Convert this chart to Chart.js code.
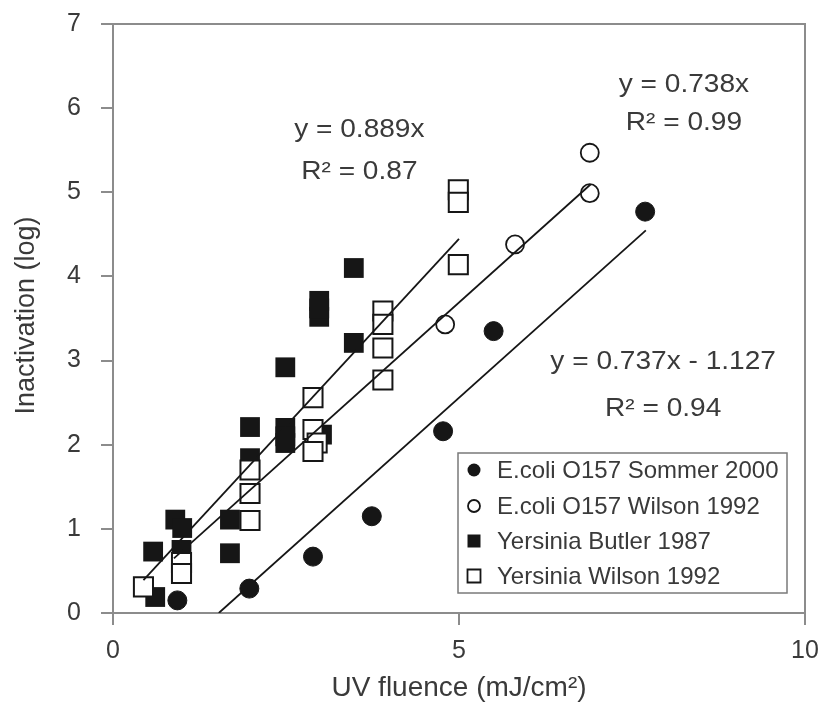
<!DOCTYPE html>
<html>
<head>
<meta charset="utf-8">
<script src="https://cdn.jsdelivr.net/npm/chart.js@4"></script>
<style>
  html, body { margin: 0; padding: 0; background: #ffffff; }
  canvas { display: block; }
</style>
</head>
<body>
<canvas id="chart" width="821" height="704"></canvas>
<script>
// UV inactivation of E. coli O157 and Yersinia, log reduction vs fluence
const sommerX = [0.93, 1.97, 2.89, 3.74, 4.77, 5.50, 7.69];
const sommerY = [0.15, 0.29, 0.67, 1.15, 2.16, 3.35, 4.77];

const ecoliWilsonX = [4.80, 5.81, 6.89, 6.89];
const ecoliWilsonY = [3.43, 4.38, 4.99, 5.47];

const butlerX = [0.58, 0.61, 0.90, 1.00, 0.99, 1.69, 1.69, 1.98, 1.98, 2.49, 2.49, 2.49, 2.49, 3.02, 2.98, 2.98, 2.98, 3.48, 3.48];
const butlerY = [0.73, 0.19, 1.11, 1.01, 0.75, 1.11, 0.71, 1.84, 2.21, 2.92, 2.20, 2.10, 2.02, 2.12, 3.52, 3.62, 3.71, 3.21, 4.10];

const yersWilsonX = [0.44, 0.99, 0.99, 1.98, 1.98, 1.98, 2.89, 2.89, 2.95, 2.89, 3.90, 3.90, 3.90, 3.90, 4.99, 4.99, 4.99];
const yersWilsonY = [0.31, 0.60, 0.47, 1.70, 1.42, 1.10, 2.56, 2.18, 2.02, 1.92, 3.59, 3.43, 3.15, 2.77, 5.03, 4.88, 4.14];

// Regression lines: y = slope * x + intercept over the fitted fluence range
const fitSlopes = [0.889, 0.738, 0.737];
const fitIntercepts = [0, 0, -1.127];
const fitXStart = [0.44, 0.88, 1.529];
const fitXEnd = [5.0, 6.9, 7.7];
const fitEquations = ['y = 0.889x', 'y = 0.738x', 'y = 0.737x - 1.127'];
const fitR2 = ['R\u00B2 = 0.87', 'R\u00B2 = 0.99', 'R\u00B2 = 0.94'];

const seriesNames = ['E.coli O157 Sommer 2000', 'E.coli O157 Wilson 1992', 'Yersinia Butler 1987', 'Yersinia Wilson 1992'];

const xTickValues = [0, 5, 10];
const yTickValues = [0, 1, 2, 3, 4, 5, 6, 7];

const FONT = '"Liberation Sans", Arial, Helvetica, sans-serif';
const TEXT = '#3a3a3a';
const AXIS = '#8c8c8c';
const INK = '#161616';

const pts = (xs, ys) => xs.map((x, i) => ({ x, y: ys[i] }));
const fitLine = i => [fitXStart[i], fitXEnd[i]].map(x => ({ x, y: fitSlopes[i] * x + fitIntercepts[i] }));

const markerStyles = [
  { pointStyle: 'circle', pointRadius: 9.5, backgroundColor: INK, borderColor: INK, borderWidth: 1 },
  { pointStyle: 'circle', pointRadius: 9, backgroundColor: '#ffffff', borderColor: INK, borderWidth: 1.8 },
  { pointStyle: 'rect', pointRadius: 14, backgroundColor: INK, borderColor: INK, borderWidth: 0 },
  { pointStyle: 'rect', pointRadius: 13.5, backgroundColor: '#ffffff', borderColor: INK, borderWidth: 2 }
];

const scatterSets = [
  pts(sommerX, sommerY),
  pts(ecoliWilsonX, ecoliWilsonY),
  pts(butlerX, butlerY),
  pts(yersWilsonX, yersWilsonY)
];
const scatterOrder = [3, 2, 4, 1];

const datasets = scatterSets.map((data, i) => Object.assign({
  label: seriesNames[i],
  data,
  showLine: false,
  order: scatterOrder[i]
}, markerStyles[i]));

fitSlopes.forEach((s, i) => {
  datasets.push({
    label: 'fit' + i,
    data: fitLine(i),
    showLine: true,
    borderColor: INK,
    borderWidth: 1.8,
    pointRadius: 0,
    order: 0
  });
});

// Text positions for the equation labels, in data units
const eqAnchors = [
  { x: 3.56, y: 5.74, dy: 0.5 },
  { x: 8.25, y: 6.28, dy: 0.45 },
  { x: 7.95, y: 2.98, dy: 0.55 }
];

function drawStretched(ctx, text, cx, cy, sx) {
  ctx.save();
  ctx.translate(cx, cy);
  ctx.scale(sx, 1);
  ctx.fillText(text, 0, 0);
  ctx.restore();
}

const decorations = {
  id: 'decorations',
  afterDraw(chart) {
    const { ctx, chartArea: a, scales } = chart;
    ctx.save();

    // top and right frame
    ctx.strokeStyle = AXIS;
    ctx.lineWidth = 2;
    ctx.beginPath();
    ctx.moveTo(a.left, a.top);
    ctx.lineTo(a.right, a.top);
    ctx.lineTo(a.right, a.bottom);
    ctx.stroke();

    // equation labels
    ctx.fillStyle = TEXT;
    ctx.textAlign = 'center';
    ctx.textBaseline = 'middle';
    ctx.font = '26px ' + FONT;
    eqAnchors.forEach((p, i) => {
      const cx = scales.x.getPixelForValue(p.x);
      const cy = scales.y.getPixelForValue(p.y);
      const cy2 = scales.y.getPixelForValue(p.y - p.dy);
      drawStretched(ctx, fitEquations[i], cx, cy, 1.08);
      drawStretched(ctx, fitR2[i], cx, cy2, 1.08);
    });

    // axis titles
    ctx.font = '28px ' + FONT;
    ctx.fillText('UV fluence (mJ/cm\u00B2)', (a.left + a.right) / 2, 688);
    ctx.save();
    ctx.translate(27, (a.top + a.bottom) / 2 - 3);
    ctx.rotate(-Math.PI / 2);
    ctx.font = '27px ' + FONT;
    ctx.fillText('Inactivation (log)', 0, 0);
    ctx.restore();

    // legend box
    const L = { left: 458, top: 453, right: 787, bottom: 593 };
    ctx.fillStyle = '#ffffff';
    ctx.fillRect(L.left, L.top, L.right - L.left, L.bottom - L.top);
    ctx.strokeStyle = '#7a7a7a';
    ctx.lineWidth = 1.5;
    ctx.strokeRect(L.left, L.top, L.right - L.left, L.bottom - L.top);

    const rowY = [470, 506, 541, 576];
    const mx = 474;
    seriesNames.forEach((name, i) => {
      const y = rowY[i];
      ctx.lineWidth = 1.8;
      ctx.strokeStyle = INK;
      ctx.fillStyle = i === 0 || i === 2 ? INK : '#ffffff';
      ctx.beginPath();
      if (i < 2) {
        ctx.arc(mx, y, i === 0 ? 6.5 : 6, 0, Math.PI * 2);
        ctx.fill();
        if (i === 1) ctx.stroke();
      } else {
        ctx.rect(mx - 6.5, y - 6.5, 13, 13);
        ctx.fill();
        if (i === 3) ctx.stroke();
      }
      ctx.fillStyle = TEXT;
      ctx.textAlign = 'left';
      ctx.textBaseline = 'middle';
      ctx.font = '24px ' + FONT;
      ctx.fillText(name, 497, y + 1);
    });

    ctx.restore();
  }
};

function fixPadding(s) {
  s.paddingTop = 0; s.paddingBottom = 0; s.paddingLeft = 0; s.paddingRight = 0;
}

new Chart(document.getElementById('chart'), {
  type: 'scatter',
  data: { datasets },
  options: {
    responsive: false,
    animation: false,
    devicePixelRatio: 1,
    layout: { padding: { top: 24, right: 16, left: 0, bottom: 0 } },
    plugins: {
      legend: { display: false },
      tooltip: { enabled: false },
      title: { display: false }
    },
    scales: {
      x: {
        type: 'linear',
        min: 0, max: 10,
        afterBuildTicks: s => { s.ticks = xTickValues.map(v => ({ value: v })); },
        afterFit: s => { s.height = 91; fixPadding(s); },
        grid: { drawOnChartArea: false, color: AXIS, lineWidth: 2, tickLength: 12 },
        border: { color: AXIS, width: 2 },
        ticks: { color: TEXT, font: { family: FONT, size: 25 }, padding: 11, maxRotation: 0 }
      },
      y: {
        type: 'linear',
        min: 0, max: 7,
        afterBuildTicks: s => { s.ticks = yTickValues.map(v => ({ value: v })); },
        afterFit: s => { s.width = 113; fixPadding(s); },
        grid: { drawOnChartArea: false, color: AXIS, lineWidth: 2, tickLength: 12 },
        border: { color: AXIS, width: 2 },
        ticks: { color: TEXT, font: { family: FONT, size: 25 }, padding: 20 }
      }
    }
  },
  plugins: [decorations]
});
</script>
</body>
</html>
